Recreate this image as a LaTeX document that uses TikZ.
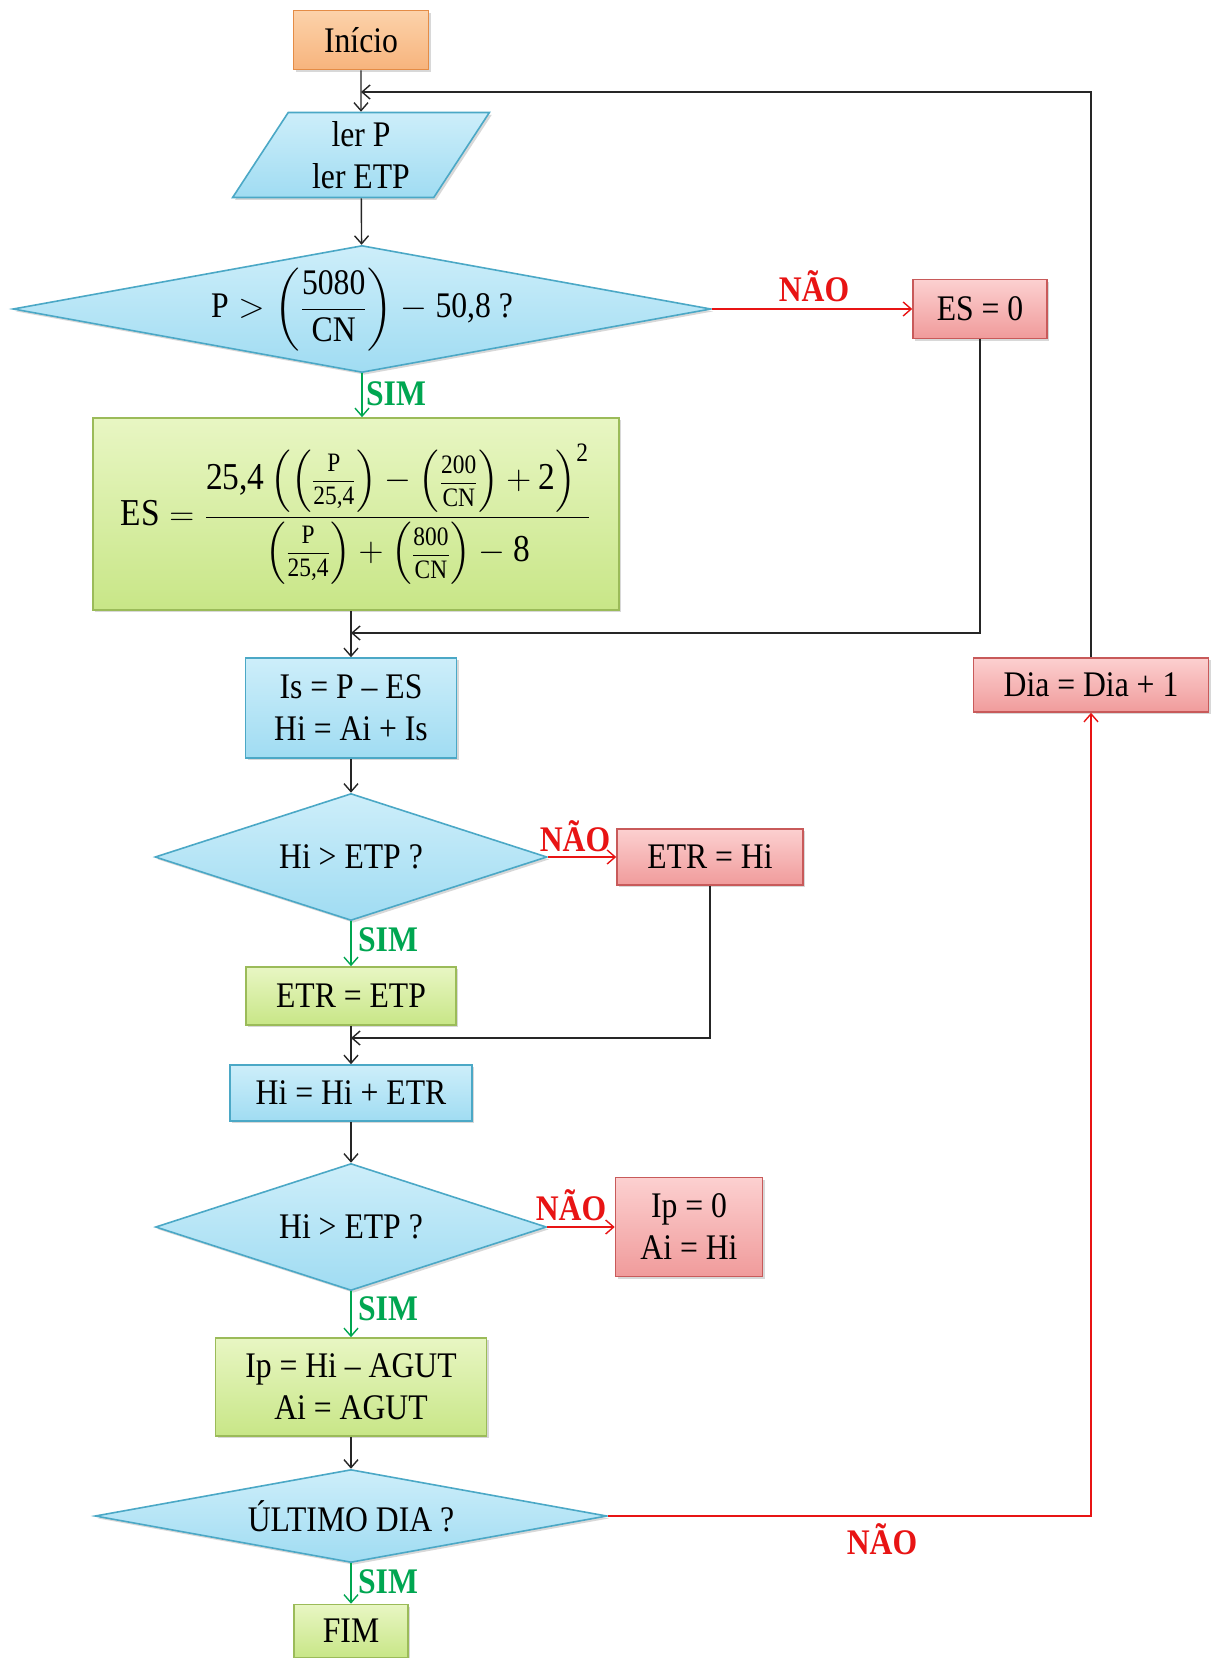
\documentclass[tikz,border=0pt]{standalone}
\usepackage{amsmath}
\usepackage{graphicx}
\usepackage{fontspec}
\setmainfont{Liberation Serif}[FakeStretch=0.88]
\usetikzlibrary{shapes.geometric,arrows.meta,shadows}
\newcommand\tx[1]{\text{#1}}
\newcommand\ifr[2]{\left(\vcenter{\hbox{\scalebox{0.7}{$\dfrac{\tx{#1}}{\tx{#2}}$}}}\right)}
\definecolor{orgL}{RGB}{252,210,170}
\definecolor{orgM}{RGB}{247,180,125}
\definecolor{orgD}{RGB}{228,140,70}
\definecolor{bluL}{RGB}{205,238,250}
\definecolor{bluM}{RGB}{160,220,242}
\definecolor{bluD}{RGB}{75,168,198}
\definecolor{grnL}{RGB}{232,246,195}
\definecolor{grnM}{RGB}{200,230,135}
\definecolor{grnD}{RGB}{155,187,89}
\definecolor{redL}{RGB}{252,208,208}
\definecolor{redM}{RGB}{240,155,155}
\definecolor{redD}{RGB}{200,90,90}
\definecolor{noC}{RGB}{232,20,20}
\definecolor{yesC}{RGB}{0,166,81}
\tikzset{
  box/.style={draw, line width=0.8pt, align=center, inner sep=2pt,
    font=\fontsize{18}{21}\selectfont,
    drop shadow={shadow xshift=1.2pt, shadow yshift=-1.2pt, opacity=0.3}},
  orangebox/.style={box, rectangle, draw=orgD, top color=orgL, bottom color=orgM},
  bluebox/.style={box, rectangle, draw=bluD, top color=bluL, bottom color=bluM},
  greenbox/.style={box, rectangle, draw=grnD, top color=grnL, bottom color=grnM},
  redbox/.style={box, rectangle, draw=redD, top color=redL, bottom color=redM},
  decision/.style={box, diamond, inner sep=0pt, draw=bluD, top color=bluL, bottom color=bluM},
  iobox/.style={box, trapezium, trapezium left angle=61, trapezium right angle=119,
    trapezium stretches=true, inner sep=0pt, draw=bluD, top color=bluL, bottom color=bluM},
  arr/.style={-{Straight Barb[length=4pt,width=7pt]}, line width=0.7pt, black!85},
  yesarr/.style={arr, yesC},
  noarr/.style={arr, noC},
  yeslbl/.style={text=yesC, font=\fontsize{18}{20}\selectfont\bfseries, inner sep=0pt},
  nolbl/.style={text=noC, font=\fontsize{18}{20}\selectfont\bfseries, inner sep=0pt},
}
\begin{document}
\begin{tikzpicture}[x=0.5pt,y=-0.5pt]
\useasboundingbox[fill=white] (0,0) rectangle (1214,1658);

% nodes
\node[orangebox, minimum width=67.5pt, minimum height=29.5pt] (start) at (361,40) {Início};
\node[iobox, minimum width=128.5pt, minimum height=42.5pt] (read) at (361,155) {ler P\\ler ETP};
\node[decision, aspect=5.5, minimum width=349pt, minimum height=63.5pt] (dec1) at (362,309)
  {\smash{\raisebox{-4.5pt}{$\tx{P} > \left(\dfrac{\tx{5080}}{\tx{CN}}\right) - \tx{50,8 ?}$}}};
\node[redbox, minimum width=67pt, minimum height=29.5pt] (es0) at (980,309) {ES = 0};
\node[greenbox, minimum width=263pt, minimum height=96pt, font=\fontsize{19}{22}\selectfont] (esf) at (356,514)
  {$\tx{ES} = \dfrac{\tx{25,4}\left(\ifr{P}{25,4} - \ifr{200}{CN} + \tx{2}\right)^{\tx{2}}}{\ifr{P}{25,4} + \ifr{800}{CN} - \tx{8}}$};
\node[bluebox, minimum width=105.5pt, minimum height=50pt] (is) at (351,708) {Is = P – ES\\Hi = Ai + Is};
\node[decision, aspect=3.09, minimum width=196pt, minimum height=63.5pt] (dec2) at (351,857) {Hi > ETP ?};
\node[redbox, minimum width=93pt, minimum height=28pt] (etrhi) at (710,857) {ETR = Hi};
\node[greenbox, minimum width=105pt, minimum height=29pt] (etretp) at (351,996) {ETR = ETP};
\node[bluebox, minimum width=121pt, minimum height=28pt] (hihi) at (351,1093) {Hi = Hi + ETR};
\node[decision, aspect=3.09, minimum width=195.5pt, minimum height=63.5pt] (dec3) at (351,1227) {Hi > ETP ?};
\node[redbox, minimum width=73.5pt, minimum height=49.5pt] (ip0) at (689,1227) {Ip = 0\\Ai = Hi};
\node[greenbox, minimum width=135.5pt, minimum height=49pt] (ipa) at (351,1387) {Ip = Hi – AGUT\\Ai = AGUT};
\node[decision, aspect=5.5, minimum width=256pt, minimum height=46.5pt] (dec4) at (351,1516) {ÚLTIMO DIA ?};
\node[greenbox, minimum width=57pt, minimum height=26.5pt] (fim) at (351,1631) {FIM};
\node[redbox, minimum width=117.5pt, minimum height=27pt] (dia) at (1091,685) {Dia = Dia + 1};

\coordinate (j0) at (361,92);
\coordinate (j1) at (351,633);
\coordinate (j2) at (351,1038);

% connectors
\draw[arr] (start) -- (read);
\draw[arr] (read) -- (dec1);
\draw[noarr] (dec1.east) -- (es0.west);
\draw[yesarr] (dec1.south) -- (dec1.south |- esf.north);
\draw[arr] (es0.south) |- (j1);
\draw[arr] (esf.south -| is) -- (is.north);
\draw[arr] (is) -- (dec2);
\draw[noarr] (dec2.east) -- (etrhi.west);
\draw[yesarr] (dec2.south) -- (etretp.north);
\draw[arr] (etrhi.south) |- (j2);
\draw[arr] (etretp) -- (hihi);
\draw[arr] (hihi) -- (dec3);
\draw[noarr] (dec3.east) -- (ip0.west);
\draw[yesarr] (dec3.south) -- (ipa.north);
\draw[arr] (ipa) -- (dec4);
\draw[noarr] (dec4.east) -| (dia.south);
\draw[yesarr] (dec4.south) -- (fim.north);
\draw[arr] (dia.north) |- (j0);

% labels
\node[nolbl] (n1) at (814,286) {NÃO};
\node[nolbl] (n2) at (575,836) {NÃO};
\node[nolbl] (n3) at (571,1205) {NÃO};
\node[nolbl] (n4) at (882,1539) {NÃO};
\node[yeslbl] (s1) at (396,394) {SIM};
\node[yeslbl] (s2) at (388,940) {SIM};
\node[yeslbl] (s3) at (388,1309) {SIM};
\node[yeslbl] (s4) at (388,1582) {SIM};
\end{tikzpicture}
\end{document}
